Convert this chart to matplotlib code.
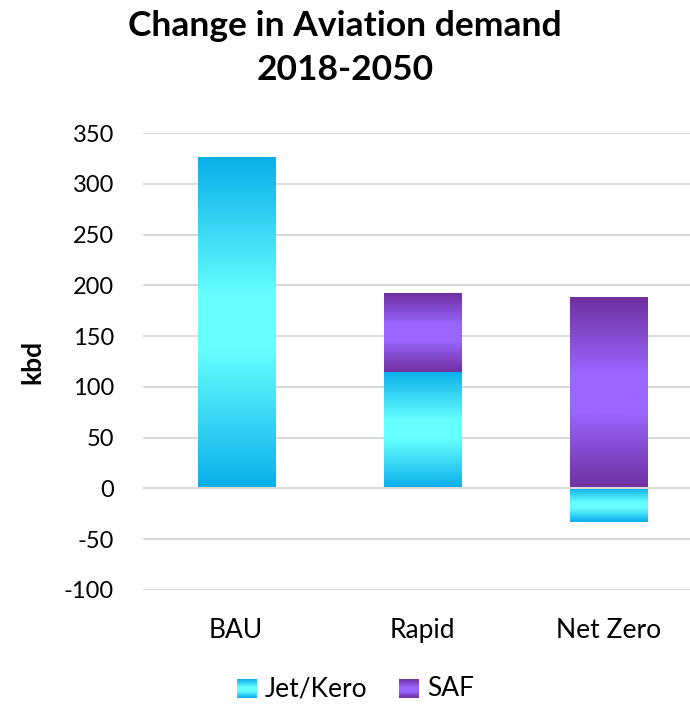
import matplotlib
matplotlib.use("Agg")
import matplotlib.pyplot as plt
import numpy as np
from matplotlib.colors import LinearSegmentedColormap
from matplotlib.legend_handler import HandlerBase
from matplotlib.patches import Rectangle

plt.rcParams['font.family'] = ['Lato', 'DejaVu Sans']

scenarios = ["BAU", "Rapid", "Net Zero"]
jet_kero = [325, 115, -33]
saf = [0, 77, 188]
yticks = [-100, -50, 0, 50, 100, 150, 200, 250, 300, 350]
ytick_labels = ["-100", "-50", "0", "50", "100", "150", "200", "250", "300", "350"]

# edge -> centre -> edge colour stops for each fuel
jet_cmap = LinearSegmentedColormap.from_list(
    "jet", [(0, "#0AAEEA"), (0.42, "#66FFFF"), (0.58, "#66FFFF"), (1, "#0AAEEA")])
saf_cmap = LinearSegmentedColormap.from_list(
    "saf", [(0, "#7030A0"), (0.4, "#9966FF"), (0.6, "#9966FF"), (1, "#7030A0")])

grad = np.linspace(0, 1, 256).reshape(-1, 1)


def fill_gradient(ax, bars, cmap):
    for b in bars:
        x, y = b.get_x(), b.get_y()
        w, h = b.get_width(), b.get_height()
        if h == 0:
            continue
        y0, y1 = min(y, y + h), max(y, y + h)
        ax.imshow(grad, cmap=cmap, extent=(x, x + w, y0, y1), origin="lower",
                  aspect="auto", zorder=2, interpolation="bilinear")


class GradientHandler(HandlerBase):
    def __init__(self, cmap):
        super().__init__()
        self.cmap = cmap

    def create_artists(self, legend, orig_handle, xdescent, ydescent,
                       width, height, fontsize, trans):
        size = 14
        x0 = -xdescent + (width - size)
        y0 = -ydescent + (height - size) / 2 - 1
        n = 20
        arts = []
        for i in range(n):
            r = Rectangle((x0, y0 + size * i / n), size, size / n + 0.01,
                          facecolor=self.cmap((i + 0.5) / n), edgecolor="none",
                          transform=trans)
            arts.append(r)
        return arts


fig = plt.figure(figsize=(6.9, 7.07), dpi=100)
ax = fig.add_axes([143 / 690, 1 - 590 / 707, 1 - 143 / 690, (590 - 133) / 707])

x = np.arange(len(scenarios))
w = 0.414
jet_bars = ax.bar(x, jet_kero, w, color="none", zorder=2)
saf_bars = ax.bar(x, saf, w, bottom=[max(v, 0) for v in jet_kero],
                  color="none", zorder=2)
fill_gradient(ax, jet_bars, jet_cmap)
fill_gradient(ax, saf_bars, saf_cmap)

ax.set_xlim(-0.5, 2.44)
ax.set_ylim(-100, 350)
ax.set_yticks(yticks)
ax.set_yticklabels(ytick_labels)
ax.set_xticks(x)
ax.set_xticklabels(scenarios)
ax.grid(axis="y", color="#D9D9D9", lw=1.5, zorder=0)
ax.axhline(0, color="#D9D9D9", lw=1.5, zorder=3)
ax.set_axisbelow(True)
for s in ax.spines.values():
    s.set_visible(False)
ax.tick_params(axis="both", length=0, colors="black")
ax.tick_params(axis="y", pad=21, labelsize=17)
ax.tick_params(axis="x", pad=20, labelsize=19)

ax.set_ylabel("kbd", fontsize=19, fontweight="bold", labelpad=14)
fig.text(0.5, 1 - 48 / 707, "Change in Aviation demand\n2018-2050",
         ha="center", va="center", fontsize=25.5, fontweight="bold",
         linespacing=1.45)

h1 = Rectangle((0, 0), 1, 1)
h2 = Rectangle((0, 0), 1, 1)
fig.legend([h1, h2], ["Jet/Kero", "SAF"], loc="center",
           bbox_to_anchor=(0.515, 1 - 689 / 707), ncol=2, frameon=False,
           fontsize=19, handlelength=0.75, handletextpad=0.3, columnspacing=1.2,
           handler_map={h1: GradientHandler(jet_cmap), h2: GradientHandler(saf_cmap)})

fig.savefig("out.png", dpi=100)
